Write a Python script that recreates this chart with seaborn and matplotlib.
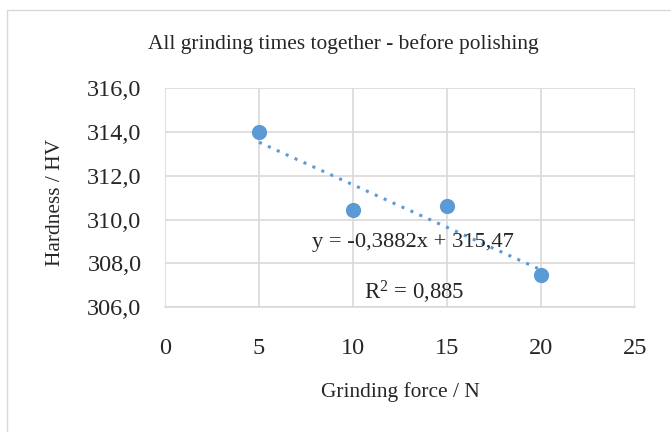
"""
Hardness vs grinding force scatter with linear trendline.
"""
import matplotlib as mpl
mpl.use("Agg")
import matplotlib.pyplot as plt
import numpy as np
import pandas as pd
import seaborn as sns
from matplotlib.ticker import FuncFormatter, MultipleLocator
from matplotlib.patches import Rectangle

force = [5, 10, 15, 20]
hardness = [314.0, 310.45, 310.6, 307.45]
slope = -0.3882
intercept = 315.47
r_squared = 0.885

BLUE = "#5B9BD5"
GRID = "#D9D9D9"
SERIF = ["Liberation Serif", "DejaVu Serif"]


def _comma(fmt):
    return FuncFormatter(lambda v, pos: fmt.format(v).replace(".", ","))


def make_plot(df):
    sns.set_style("white")
    plt.rcParams["font.family"] = SERIF
    plt.rcParams["mathtext.fontset"] = "stix"

    fig = plt.figure(figsize=(6.71, 4.32), dpi=100)
    ax = fig.add_axes([0.246, 0.289, 0.7, 0.507])

    # thin border round the chart area, as in the spreadsheet export
    fig.patches.append(Rectangle((7 / 671, -0.05), 1.0, 1 - 10 / 432 + 0.05,
                                 transform=fig.transFigure, fill=False,
                                 edgecolor=GRID, linewidth=1.0))

    sns.scatterplot(data=df, x="force", y="hardness", ax=ax, color=BLUE,
                    s=120, edgecolor=BLUE, linewidth=0, zorder=3)

    xs = np.array([df.force.min(), df.force.max()])
    sns.lineplot(x=xs, y=slope * xs + intercept, ax=ax, color=BLUE,
                 linestyle=(0, (1, 2.2)), linewidth=2.2, zorder=2)

    ax.set_xlim(0, 25)
    ax.set_ylim(306, 316)
    ax.xaxis.set_major_locator(MultipleLocator(5))
    ax.yaxis.set_major_locator(MultipleLocator(2))
    ax.yaxis.set_major_formatter(_comma("{:.1f}"))
    ax.xaxis.set_major_formatter(_comma("{:.0f}"))
    ax.tick_params(axis="both", length=0, labelsize=17.5)
    ax.tick_params(axis="x", pad=22)
    ax.tick_params(axis="y", pad=17)
    ax.grid(True, color=GRID, linewidth=1.2)
    for side, sp in ax.spines.items():
        sp.set_visible(side == "bottom")
        sp.set_color(GRID)
        sp.set_linewidth(1.2)

    ax.set_xlabel("Grinding force / N", fontsize=15.4, va="center")
    ax.set_ylabel("Hardness / HV", fontsize=15.4, va="center")
    ax.xaxis.set_label_coords(0.5, (307 - 392) / 219)
    ax.yaxis.set_label_coords((55 - 165) / 470, 0.48)
    fig.text(343 / 671, 1 - 44 / 432,
             "All grinding times together - before polishing",
             ha="center", va="center", fontsize=15.4)

    eq = f"y = {slope:.4f}x + {intercept:.2f}".replace(".", ",")
    ax.text(13.2, 308.97, eq, ha="center", va="center", fontsize=16.2,
            zorder=4)
    r2 = f"$\\mathregular{{R^2}}$ = {r_squared:.3f}".replace(".", ",")
    ax.text(13.25, 306.68, r2, ha="center", va="center", fontsize=16.4,
            zorder=4)
    return fig, ax


def main():
    df = pd.DataFrame({"force": force, "hardness": hardness})
    fig, ax = make_plot(df)
    fig.savefig("out.png", dpi=100)


if __name__ == "__main__":
    main()
